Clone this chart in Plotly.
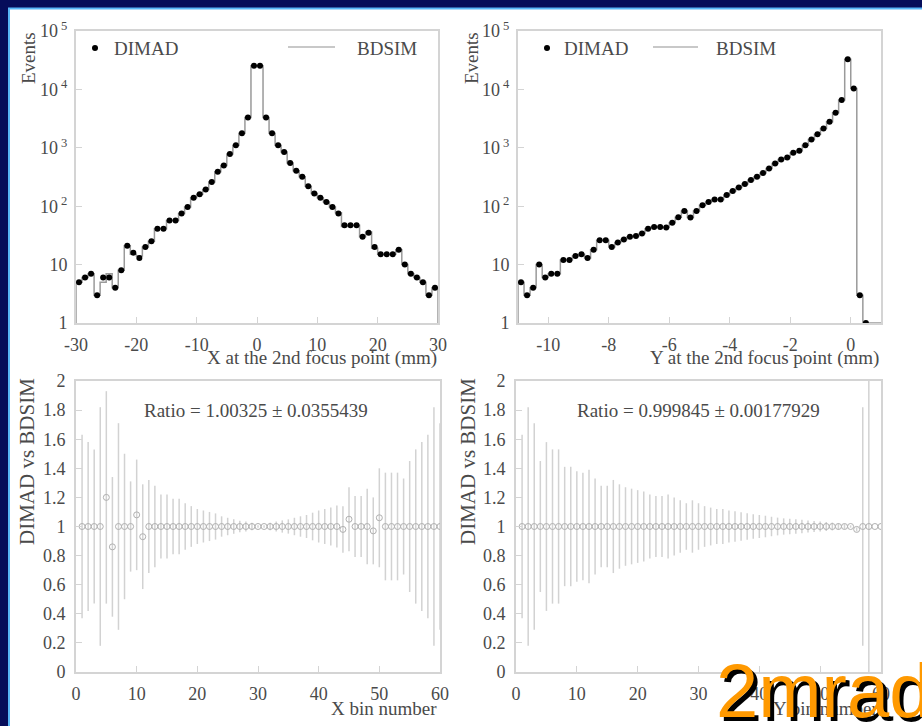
import plotly.graph_objects as go

# ---------------- data ----------------
# Top-left: X at the 2nd focus point, 60 bins from -30 to 30 mm
x_lo, x_hi, x_nbins = -30.0, 30.0, 60
dimad_x = [5, 6, 7, 3, 6, 6, 4, 8, 21, 16, 13, 20, 25, 41, 41, 57, 57, 75, 97, 140,
           160, 193, 260, 390, 500, 780, 1110, 1770, 3300, 25500, 25500, 3300, 1770, 1110, 850, 550, 405, 318, 220, 165,
           140, 118, 97, 75, 47, 47, 47, 30, 35, 20, 15, 15, 15, 18, 10, 7, 6, 5, 3, 4]
bdsim_x = [5, 6, 7, 3, 5, 7, 4, 8, 21, 15, 14, 20, 25, 41, 41, 57, 57, 75, 97, 140,
           160, 193, 260, 390, 500, 780, 1110, 1770, 3300, 25500, 25500, 3300, 1770, 1110, 850, 550, 405, 318, 220, 165,
           140, 118, 97, 77, 45, 47, 47, 30, 36, 19, 15, 15, 15, 18, 10, 7, 6, 5, 3, 4]

# Top-right: Y at the 2nd focus point, 60 bins from -11 to 1 mm
y_lo, y_hi, y_nbins = -11.0, 1.0, 60
dimad_y = [5, 3, 4, 10, 6, 7, 7, 12, 12, 14, 15, 13, 18, 26, 26, 20, 24, 27, 30, 31,
           34, 41, 44, 44, 43, 52, 65, 83, 64, 83, 104, 118, 130, 130, 155, 182, 209, 240, 280, 318,
           370, 443, 540, 630, 680, 820, 890, 1110, 1390, 1710, 2140, 2800, 4000, 6600, 32700, 10400, 3, 1, 0, 0]
bdsim_y = [5, 3, 4, 10, 6, 7, 7, 12, 12, 14, 15, 13, 18, 26, 26, 20, 24, 27, 30, 31,
           34, 41, 44, 44, 43, 52, 65, 83, 64, 83, 104, 118, 130, 130, 155, 182, 209, 240, 280, 318,
           370, 443, 540, 630, 680, 820, 890, 1110, 1390, 1710, 2140, 2800, 4000, 6600, 32700, 10400, 3, 1, 0, 0]

# Bin numbers used on the ratio plots
bin_numbers = [1, 2, 3, 4, 5, 6, 7, 8, 9, 10, 11, 12, 13, 14, 15, 16, 17, 18, 19, 20,
               21, 22, 23, 24, 25, 26, 27, 28, 29, 30, 31, 32, 33, 34, 35, 36, 37, 38, 39, 40,
               41, 42, 43, 44, 45, 46, 47, 48, 49, 50, 51, 52, 53, 54, 55, 56, 57, 58, 59, 60]

# Bottom-left: DIMAD / BDSIM ratio per X bin
ratio_x = [1.0, 1.0, 1.0, 1.0, 1.2, 0.86, 1.0, 1.0, 1.0, 1.08, 0.93, 1.0, 1.0, 1.0, 1.0, 1.0, 1.0, 1.0, 1.0, 1.0,
           1.0, 1.0, 1.0, 1.0, 1.0, 1.0, 1.0, 1.0, 1.0, 1.0, 1.0, 1.0, 1.0, 1.0, 1.0, 1.0, 1.0, 1.0, 1.0, 1.0,
           1.0, 1.0, 1.0, 0.98, 1.05, 1.0, 1.0, 1.0, 0.97, 1.06, 1.0, 1.0, 1.0, 1.0, 1.0, 1.0, 1.0, 1.0, 1.0, 1.0]
ratio_x_err = [0.63, 0.58, 0.53, 0.82, 0.73, 0.48, 0.71, 0.50, 0.31, 0.38, 0.36, 0.32, 0.28, 0.22, 0.22, 0.19, 0.19, 0.16, 0.14, 0.12,
               0.11, 0.10, 0.09, 0.07, 0.06, 0.05, 0.04, 0.034, 0.025, 0.009, 0.009, 0.025, 0.034, 0.042, 0.049, 0.06, 0.07, 0.079, 0.095, 0.11,
               0.12, 0.13, 0.144, 0.16, 0.22, 0.21, 0.21, 0.26, 0.23, 0.34, 0.37, 0.37, 0.37, 0.33, 0.45, 0.53, 0.58, 0.63, 0.82, 0.71]

# Bottom-right: DIMAD / BDSIM ratio per Y bin
ratio_y = [1.0, 1.0, 1.0, 1.0, 1.0, 1.0, 1.0, 1.0, 1.0, 1.0, 1.0, 1.0, 1.0, 1.0, 1.0, 1.0, 1.0, 1.0, 1.0, 1.0,
           1.0, 1.0, 1.0, 1.0, 1.0, 1.0, 1.0, 1.0, 1.0, 1.0, 1.0, 1.0, 1.0, 1.0, 1.0, 1.0, 1.0, 1.0, 1.0, 1.0,
           1.0, 1.0, 1.0, 1.0, 1.0, 1.0, 1.0, 1.0, 1.0, 1.0, 1.0, 1.0, 1.0, 1.0, 1.0, 0.98, 1.0, 1.0, 1.0, 1.0]
ratio_y_err = [0.63, 0.82, 0.71, 0.45, 0.58, 0.53, 0.53, 0.41, 0.41, 0.38, 0.37, 0.39, 0.33, 0.28, 0.28, 0.32, 0.29, 0.27, 0.26, 0.25,
               0.24, 0.22, 0.21, 0.21, 0.22, 0.20, 0.18, 0.16, 0.18, 0.16, 0.14, 0.13, 0.12, 0.12, 0.11, 0.105, 0.098, 0.091, 0.085, 0.079,
               0.074, 0.067, 0.061, 0.056, 0.054, 0.049, 0.047, 0.042, 0.038, 0.034, 0.031, 0.027, 0.022, 0.017, 0.008, 0.014, 0.82, 1.41, 0.0, 0.0]

log_tickvals = [1, 10, 100, 1000, 10000, 100000]
log_ticktext = ["1", "10", "10<sup> 2</sup>", "10<sup> 3</sup>", "10<sup> 4</sup>", "10<sup> 5</sup>"]
x_tickvals = [-30, -20, -10, 0, 10, 20, 30]
x_ticktext = ["-30", "-20", "-10", "0", "10", "20", "30"]
y_tickvals = [-10, -8, -6, -4, -2, 0]
y_ticktext = ["-10", "-8", "-6", "-4", "-2", "0"]
ratio_text_x = "Ratio = 1.00325 \u00b1 0.0355439"
ratio_text_y = "Ratio = 0.999845 \u00b1 0.00177929"

# ---------------- styling / layout constants ----------------
W, H = 922, 726
NAVY = "#060d5a"
EDGE = "#58b6f7"
TXT = "#4a4a4a"
FONT = "Liberation Serif"
FRAME = "#d4d4d4"
YMIN = 1  # bottom of the log axes


def PX(x):
    return x / W


def PY(y):
    return 1 - y / H


def step_points(lo, hi, counts):
    n = len(counts)
    w = (hi - lo) / n
    xs = [lo]
    ys = [YMIN]
    for i, c in enumerate(counts):
        xs.append(lo + i * w)
        ys.append(max(c, YMIN))
    xs.append(hi)
    ys.append(max(counts[-1], YMIN))
    xs.append(hi)
    ys.append(YMIN)
    return xs, ys


def centers(lo, hi, n):
    w = (hi - lo) / n
    return [lo + (i + 0.5) * w for i in range(n)]


fig = go.Figure()

# top-left histogram
sx, sy = step_points(x_lo, x_hi, bdsim_x)
fig.add_trace(go.Scatter(x=sx, y=sy, mode="lines", line=dict(shape="hv", color="#9a9a9a", width=1.5),
                         xaxis="x", yaxis="y", showlegend=False, hoverinfo="skip"))
fig.add_trace(go.Scatter(x=centers(x_lo, x_hi, x_nbins), y=[c if c > 0 else None for c in dimad_x], mode="markers",
                         marker=dict(symbol="circle", size=6, color="black"), xaxis="x", yaxis="y", showlegend=False))

# top-right histogram
sx, sy = step_points(y_lo, y_hi, bdsim_y)
fig.add_trace(go.Scatter(x=sx, y=sy, mode="lines", line=dict(shape="hv", color="#9a9a9a", width=1.5),
                         xaxis="x2", yaxis="y2", showlegend=False, hoverinfo="skip"))
fig.add_trace(go.Scatter(x=centers(y_lo, y_hi, y_nbins), y=[c if c > 0 else None for c in dimad_y], mode="markers",
                         marker=dict(symbol="circle", size=6, color="black"), xaxis="x2", yaxis="y2", showlegend=False))

# ratio plots
fig.add_trace(go.Scatter(x=bin_numbers, y=ratio_x, mode="markers",
                         error_y=dict(type="data", array=ratio_x_err, color="#d2d2d2", thickness=1.5, width=0),
                         marker=dict(symbol="circle-open", size=6, color="#b0b0b0", line=dict(width=1)),
                         xaxis="x3", yaxis="y3", showlegend=False))
fig.add_trace(go.Scatter(x=bin_numbers, y=ratio_y, mode="markers",
                         error_y=dict(type="data", array=ratio_y_err, color="#d2d2d2", thickness=1.5, width=0),
                         marker=dict(symbol="circle-open", size=6, color="#b0b0b0", line=dict(width=1)),
                         xaxis="x4", yaxis="y4", showlegend=False))

axis_common = dict(showline=True, mirror=True, linecolor=FRAME, linewidth=2, showgrid=False, zeroline=False,
                   automargin=False, ticks="inside", ticklen=6, tickcolor=FRAME,
                   tickfont=dict(family=FONT, size=18, color=TXT))

fig.update_layout(
    width=W, height=H, autosize=False,
    margin=dict(l=0, r=0, t=0, b=0, pad=0),
    paper_bgcolor=NAVY, plot_bgcolor="white",
    font=dict(family=FONT, color=TXT),
    xaxis=dict(domain=[PX(76), PX(438)], range=[x_lo, x_hi], tickvals=x_tickvals, ticktext=x_ticktext,
               anchor="y", ticklabelstandoff=4, **axis_common),
    yaxis=dict(domain=[PY(323), PY(31)], type="log", range=[0, 5], tickvals=log_tickvals, ticktext=log_ticktext,
               anchor="x", ticklabelstandoff=3, **axis_common),
    xaxis2=dict(domain=[PX(518), PX(881)], range=[y_lo, y_hi], tickvals=y_tickvals, ticktext=y_ticktext,
                anchor="y2", ticklabelstandoff=4, **axis_common),
    yaxis2=dict(domain=[PY(323), PY(31)], type="log", range=[0, 5], tickvals=log_tickvals, ticktext=log_ticktext,
                anchor="x2", ticklabelstandoff=3, **axis_common),
    xaxis3=dict(domain=[PX(76), PX(440)], range=[0, 60], dtick=10, anchor="y3", ticklabelstandoff=4, **axis_common),
    yaxis3=dict(domain=[PY(672), PY(381)], range=[0, 2], dtick=0.2, anchor="x3", ticklabelstandoff=5, **axis_common),
    xaxis4=dict(domain=[PX(516), PX(881)], range=[0, 60], dtick=10, anchor="y4", ticklabelstandoff=4, **axis_common),
    yaxis4=dict(domain=[PY(672), PY(381)], range=[0, 2], dtick=0.2, anchor="x4", ticklabelstandoff=5, **axis_common),
)

shapes = [
    dict(type="rect", xref="paper", yref="paper", x0=PX(9), x1=PX(W + 10), y0=PY(H + 10), y1=PY(8.5),
         fillcolor="white", line=dict(color=EDGE, width=2), layer="below"),
    # legend marks
    dict(type="circle", xref="paper", yref="paper", x0=PX(92), x1=PX(98), y0=PY(51), y1=PY(45),
         fillcolor="black", line=dict(width=0)),
    dict(type="line", xref="paper", yref="paper", x0=PX(288), x1=PX(335), y0=PY(47), y1=PY(47),
         line=dict(color="#c8c8c8", width=2)),
    dict(type="circle", xref="paper", yref="paper", x0=PX(544), x1=PX(550), y0=PY(51), y1=PY(45),
         fillcolor="black", line=dict(width=0)),
    dict(type="line", xref="paper", yref="paper", x0=PX(653), x1=PX(698), y0=PY(47), y1=PY(47),
         line=dict(color="#c8c8c8", width=2)),
]


def ann(text, x, y, size=19, xanchor="center", yanchor="middle", angle=0, color=TXT, family=FONT):
    return dict(text=text, x=PX(x), y=PY(y), xref="paper", yref="paper", showarrow=False,
                xanchor=xanchor, yanchor=yanchor, textangle=angle,
                font=dict(family=family, size=size, color=color))


annotations = [
    ann("DIMAD", 112, 48, xanchor="left"),
    ann("BDSIM", 355, 48, xanchor="left"),
    ann("DIMAD", 562, 48, xanchor="left"),
    ann("BDSIM", 714, 48, xanchor="left"),
    ann("Events", 28, 58, size=19, angle=-90),
    ann("Events", 471, 58, size=19, angle=-90),
    ann("X at the 2nd focus point (mm)", 439, 358, xanchor="right"),
    ann("Y at the 2nd focus point (mm)", 881, 358, xanchor="right"),
    ann("DIMAD vs BDSIM", 27, 462, size=21, angle=-90),
    ann("DIMAD vs BDSIM", 468, 462, size=21, angle=-90),
    ann("X bin number", 439, 708, xanchor="right"),
    ann("Y bin number", 881, 708, xanchor="right"),
    ann(ratio_text_x, 256, 410),
    ann(ratio_text_y, 698, 410),
    ann("2mrad", 718, 694, size=76, xanchor="left", color="black", family="Liberation Sans"),
    ann("2mrad", 714, 690, size=76, xanchor="left", color="#ff9900", family="Liberation Sans"),
]

fig.update_layout(shapes=shapes, annotations=annotations)

page_fix = ("document.body.style.margin='0';document.body.style.padding='0';"
            "document.body.style.overflow='hidden';document.body.style.background='" + NAVY + "';")
fig.write_html("out.html", post_script=page_fix, config={"displayModeBar": False})
